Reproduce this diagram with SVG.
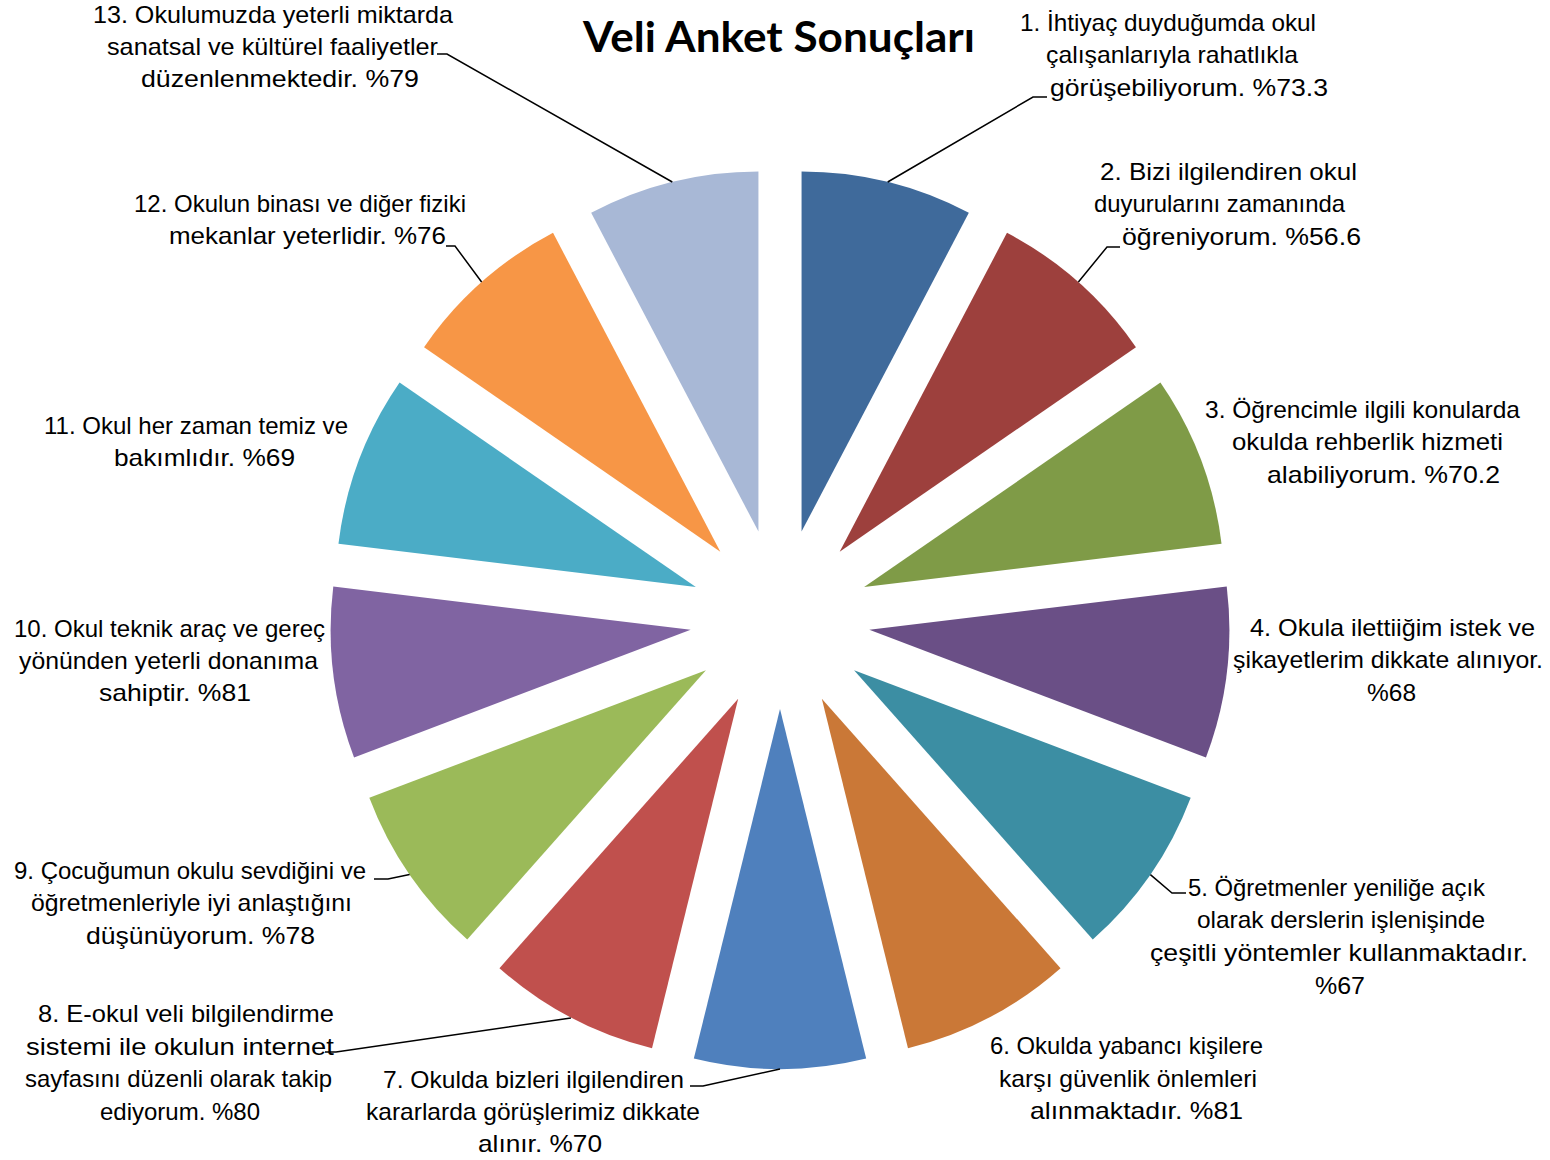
<svg xmlns="http://www.w3.org/2000/svg" width="1550" height="1160" viewBox="0 0 1550 1160">
<style>
.lbl{font-family:"Liberation Sans",Arial,sans-serif;font-size:24px;fill:#000}
.title{font-family:Lato,"DejaVu Sans",sans-serif;font-size:42px;font-weight:bold;fill:#000}
.conn{fill:none;stroke:#000;stroke-width:1.5}
</style>
<rect width="1550" height="1160" fill="#fff"/>
<g id="title"><text class="title" x="583" y="52" textLength="392" lengthAdjust="spacingAndGlyphs">Veli Anket Sonuçları</text></g>
<g id="slices">
<g id="s1"><path d="M801.54,531.62 L801.54,171.62 A360,360 0 0 1 968.84,212.85 Z" fill="#3F6A9B"/></g>
<g id="s2"><path d="M839.68,551.63 L1006.98,232.86 A360,360 0 0 1 1135.95,347.13 Z" fill="#9D403D"/></g>
<g id="s3"><path d="M864.15,587.09 L1160.42,382.59 A360,360 0 0 1 1221.53,543.70 Z" fill="#7F9B47"/></g>
<g id="s4"><path d="M869.34,629.85 L1226.72,586.46 A360,360 0 0 1 1205.95,757.51 Z" fill="#6A4F86"/></g>
<g id="s5"><path d="M854.07,670.13 L1190.68,797.79 A360,360 0 0 1 1092.79,939.59 Z" fill="#3C8EA3"/></g>
<g id="s6"><path d="M821.82,698.69 L1060.54,968.15 A360,360 0 0 1 907.98,1048.23 Z" fill="#CA7837"/></g>
<g id="s7"><path d="M780,709 L866.16,1058.54 A360,360 0 0 1 693.84,1058.54 Z" fill="#4F80BD"/></g>
<g id="s8"><path d="M738.18,698.69 L652.02,1048.23 A360,360 0 0 1 499.46,968.15 Z" fill="#C0504D"/></g>
<g id="s9"><path d="M705.93,670.13 L467.21,939.59 A360,360 0 0 1 369.32,797.79 Z" fill="#9BBA59"/></g>
<g id="s10"><path d="M690.66,629.85 L354.05,757.51 A360,360 0 0 1 333.28,586.46 Z" fill="#8064A2"/></g>
<g id="s11"><path d="M695.85,587.09 L338.47,543.70 A360,360 0 0 1 399.58,382.59 Z" fill="#4BACC6"/></g>
<g id="s12"><path d="M720.32,551.63 L424.05,347.13 A360,360 0 0 1 553.02,232.86 Z" fill="#F79646"/></g>
<g id="s13"><path d="M758.46,531.62 L591.16,212.85 A360,360 0 0 1 758.46,171.62 Z" fill="#A8B8D6"/></g>
</g>
<g id="connectors">
<polyline class="conn" points="887.7,182 1033,97 1047,97"/>
<polyline class="conn" points="1078.4,282 1107,247 1120,247"/>
<polyline class="conn" points="1150.4,874.6 1172,893 1186,893"/>
<polyline class="conn" points="780,1069 703,1086 690,1086"/>
<polyline class="conn" points="570.9,1018 336,1052 325,1052"/>
<polyline class="conn" points="409.6,874.6 388,879 374,879"/>
<polyline class="conn" points="481.6,282 455,246 446,246"/>
<polyline class="conn" points="672.3,182 447,54 437,54"/>
</g>
<g id="label1">
<text class="lbl" x="1020" y="31" textLength="296" lengthAdjust="spacingAndGlyphs">1. İhtiyaç duyduğumda okul</text>
<text class="lbl" x="1046" y="63" textLength="252" lengthAdjust="spacingAndGlyphs">çalışanlarıyla rahatlıkla</text>
<text class="lbl" x="1050" y="96" textLength="278" lengthAdjust="spacingAndGlyphs">görüşebiliyorum. %73.3</text>
</g>
<g id="label2">
<text class="lbl" x="1100" y="180" textLength="257" lengthAdjust="spacingAndGlyphs">2. Bizi ilgilendiren okul</text>
<text class="lbl" x="1094" y="212" textLength="251" lengthAdjust="spacingAndGlyphs">duyurularını zamanında</text>
<text class="lbl" x="1122" y="245" textLength="239" lengthAdjust="spacingAndGlyphs">öğreniyorum. %56.6</text>
</g>
<g id="label3">
<text class="lbl" x="1205" y="418" textLength="315" lengthAdjust="spacingAndGlyphs">3. Öğrencimle ilgili konularda</text>
<text class="lbl" x="1232" y="450" textLength="271" lengthAdjust="spacingAndGlyphs">okulda rehberlik hizmeti</text>
<text class="lbl" x="1267" y="483" textLength="233" lengthAdjust="spacingAndGlyphs">alabiliyorum. %70.2</text>
</g>
<g id="label4">
<text class="lbl" x="1250" y="636" textLength="285" lengthAdjust="spacingAndGlyphs">4. Okula ilettiiğim istek ve</text>
<text class="lbl" x="1233" y="668" textLength="310" lengthAdjust="spacingAndGlyphs">şikayetlerim dikkate alınıyor.</text>
<text class="lbl" x="1367" y="701" textLength="49" lengthAdjust="spacingAndGlyphs">%68</text>
</g>
<g id="label5">
<text class="lbl" x="1188" y="896" textLength="297" lengthAdjust="spacingAndGlyphs">5. Öğretmenler yeniliğe açık</text>
<text class="lbl" x="1197" y="928" textLength="288" lengthAdjust="spacingAndGlyphs">olarak derslerin işlenişinde</text>
<text class="lbl" x="1150" y="961" textLength="378" lengthAdjust="spacingAndGlyphs">çeşitli yöntemler kullanmaktadır.</text>
<text class="lbl" x="1315" y="994" textLength="50" lengthAdjust="spacingAndGlyphs">%67</text>
</g>
<g id="label6">
<text class="lbl" x="990" y="1054" textLength="273" lengthAdjust="spacingAndGlyphs">6. Okulda yabancı kişilere</text>
<text class="lbl" x="999" y="1087" textLength="258" lengthAdjust="spacingAndGlyphs">karşı güvenlik önlemleri</text>
<text class="lbl" x="1030" y="1119" textLength="213" lengthAdjust="spacingAndGlyphs">alınmaktadır. %81</text>
</g>
<g id="label7">
<text class="lbl" x="383" y="1088" textLength="301" lengthAdjust="spacingAndGlyphs">7. Okulda bizleri ilgilendiren</text>
<text class="lbl" x="366" y="1120" textLength="334" lengthAdjust="spacingAndGlyphs">kararlarda görüşlerimiz dikkate</text>
<text class="lbl" x="478" y="1152" textLength="124" lengthAdjust="spacingAndGlyphs">alınır. %70</text>
</g>
<g id="label8">
<text class="lbl" x="38" y="1022" textLength="296" lengthAdjust="spacingAndGlyphs">8. E-okul veli bilgilendirme</text>
<text class="lbl" x="26" y="1055" textLength="308" lengthAdjust="spacingAndGlyphs">sistemi ile okulun internet</text>
<text class="lbl" x="25" y="1087" textLength="307" lengthAdjust="spacingAndGlyphs">sayfasını düzenli olarak takip</text>
<text class="lbl" x="100" y="1120" textLength="160" lengthAdjust="spacingAndGlyphs">ediyorum. %80</text>
</g>
<g id="label9">
<text class="lbl" x="14" y="879" textLength="352" lengthAdjust="spacingAndGlyphs">9. Çocuğumun okulu sevdiğini ve</text>
<text class="lbl" x="31" y="911" textLength="321" lengthAdjust="spacingAndGlyphs">öğretmenleriyle iyi anlaştığını</text>
<text class="lbl" x="86" y="944" textLength="229" lengthAdjust="spacingAndGlyphs">düşünüyorum. %78</text>
</g>
<g id="label10">
<text class="lbl" x="14" y="637" textLength="311" lengthAdjust="spacingAndGlyphs">10. Okul teknik araç ve gereç</text>
<text class="lbl" x="19" y="669" textLength="299" lengthAdjust="spacingAndGlyphs">yönünden yeterli donanıma</text>
<text class="lbl" x="99" y="701" textLength="152" lengthAdjust="spacingAndGlyphs">sahiptir. %81</text>
</g>
<g id="label11">
<text class="lbl" x="44" y="434" textLength="304" lengthAdjust="spacingAndGlyphs">11. Okul her zaman temiz ve</text>
<text class="lbl" x="114" y="466" textLength="181" lengthAdjust="spacingAndGlyphs">bakımlıdır. %69</text>
</g>
<g id="label12">
<text class="lbl" x="134" y="212" textLength="332" lengthAdjust="spacingAndGlyphs">12. Okulun binası ve diğer fiziki</text>
<text class="lbl" x="169" y="244" textLength="277" lengthAdjust="spacingAndGlyphs">mekanlar yeterlidir. %76</text>
</g>
<g id="label13">
<text class="lbl" x="93" y="23" textLength="360" lengthAdjust="spacingAndGlyphs">13. Okulumuzda yeterli miktarda</text>
<text class="lbl" x="107" y="55" textLength="331" lengthAdjust="spacingAndGlyphs">sanatsal ve kültürel faaliyetler</text>
<text class="lbl" x="141" y="87" textLength="278" lengthAdjust="spacingAndGlyphs">düzenlenmektedir. %79</text>
</g>
</svg>
